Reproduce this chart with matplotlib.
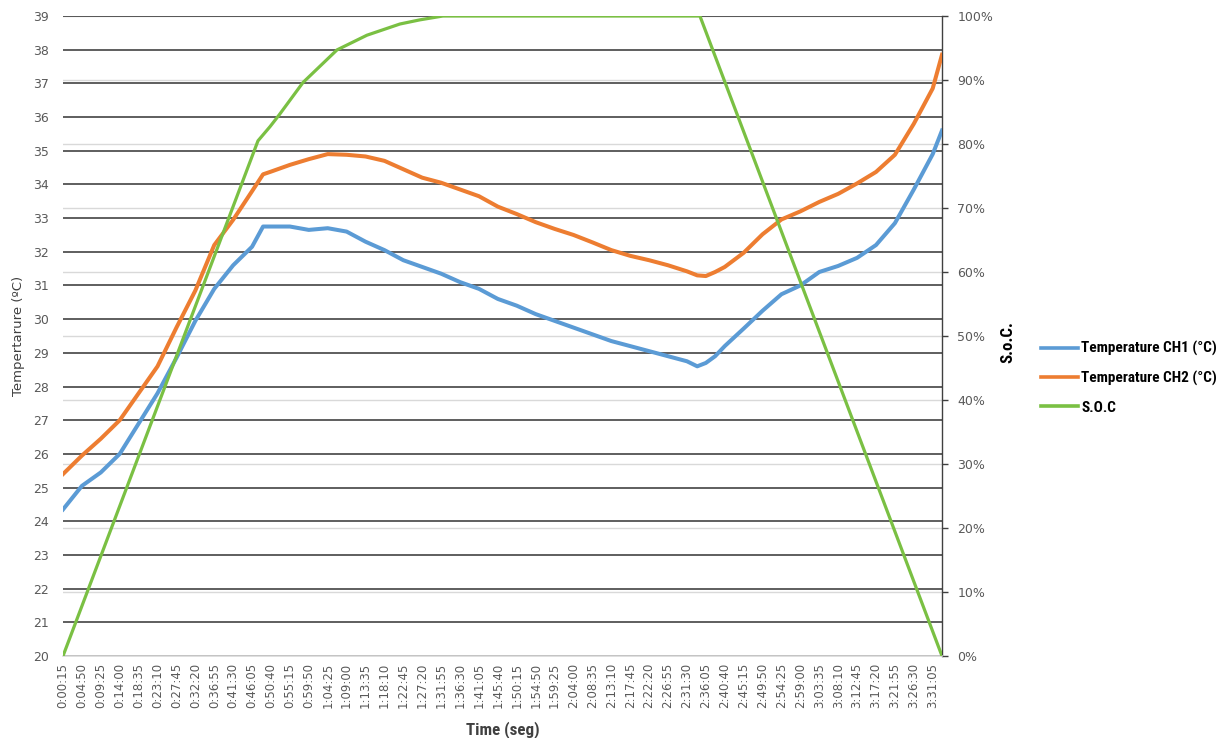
import matplotlib
matplotlib.use("Agg")
import matplotlib.pyplot as plt
from matplotlib.lines import Line2D
from matplotlib import font_manager as fm

# ---------------- data ----------------
tick_labels = [
    "0:00:15", "0:04:50", "0:09:25", "0:14:00", "0:18:35", "0:23:10", "0:27:45",
    "0:32:20", "0:36:55", "0:41:30", "0:46:05", "0:50:40", "0:55:15", "0:59:50",
    "1:04:25", "1:09:00", "1:13:35", "1:18:10", "1:22:45", "1:27:20", "1:31:55",
    "1:36:30", "1:41:05", "1:45:40", "1:50:15", "1:54:50", "1:59:25", "2:04:00",
    "2:08:35", "2:13:10", "2:17:45", "2:22:20", "2:26:55", "2:31:30", "2:36:05",
    "2:40:40", "2:45:15", "2:49:50", "2:54:25", "2:59:00", "3:03:35", "3:08:10",
    "3:12:45", "3:17:20", "3:21:55", "3:26:30", "3:31:05",
]

sample_times = [
    "0:00:15", "0:04:50", "0:09:25", "0:14:00", "0:18:35", "0:23:10", "0:27:45",
    "0:32:20", "0:36:55", "0:41:30", "0:46:05", "0:48:45", "0:50:40", "0:55:15",
    "0:59:50", "1:04:25", "1:09:00", "1:13:35", "1:18:10", "1:22:45", "1:27:20",
    "1:31:55", "1:36:30", "1:41:05", "1:45:40", "1:50:15", "1:54:50", "1:59:25",
    "2:04:00", "2:08:35", "2:13:10", "2:17:45", "2:22:20", "2:26:55", "2:31:30",
    "2:34:00", "2:36:05", "2:38:20", "2:40:40", "2:45:15", "2:49:50", "2:54:25",
    "2:59:00", "3:03:35", "3:08:10", "3:12:45", "3:17:20", "3:21:55", "3:26:30",
    "3:31:05", "3:33:20",
]

temp_ch1 = [
    24.35, 25.05, 25.45, 26.00, 26.90, 27.80, 28.85,
    29.95, 30.90, 31.60, 32.15, 32.75, 32.75, 32.75,
    32.65, 32.70, 32.60, 32.30, 32.05, 31.75, 31.55,
    31.35, 31.10, 30.90, 30.60, 30.40, 30.15, 29.95,
    29.75, 29.55, 29.35, 29.20, 29.05, 28.90, 28.75,
    28.60, 28.70, 28.90, 29.20, 29.72, 30.25, 30.74,
    31.00, 31.40, 31.58, 31.82, 32.20, 32.85, 33.85,
    34.90, 35.60,
]

temp_ch2 = [
    25.40, 25.95, 26.45, 27.00, 27.80, 28.60, 29.75,
    30.85, 32.20, 32.95, 33.80, 34.30, 34.38, 34.58,
    34.75, 34.90, 34.88, 34.83, 34.70, 34.45, 34.20,
    34.05, 33.85, 33.65, 33.34, 33.12, 32.88, 32.68,
    32.50, 32.28, 32.05, 31.88, 31.75, 31.60, 31.42,
    31.30, 31.28, 31.40, 31.55, 31.97, 32.52, 32.96,
    33.20, 33.48, 33.72, 34.03, 34.37, 34.88, 35.80,
    36.85, 37.85,
]

soc_times = ["0:00:15", "0:47:31", "0:50:25", "0:52:36", "0:58:25", "1:06:40",
             "1:13:56", "1:21:56", "1:26:47", "1:32:21", "2:34:39", "3:33:20"]
soc_pct = [0.0, 80.5, 82.7, 84.5, 89.6, 94.7, 97.0, 98.75, 99.4, 100.0, 100.0, 0.0]

temp_ticks = list(range(20, 40))
soc_ticks = list(range(0, 101, 10))

legend_labels = ["Temperature CH1 (°C)", "Temperature CH2 (°C)", "S.O.C"]


def to_sec(s):
    h, m, sec = s.split(":")
    return int(h) * 3600 + int(m) * 60 + int(sec)


tick_x = [to_sec(s) for s in tick_labels]
tx = [to_sec(s) for s in sample_times]
sx = [to_sec(s) for s in soc_times]


# ---------------- fonts ----------------
def _wt(f):
    try:
        return int(f.weight)
    except (TypeError, ValueError):
        return {"bold": 700, "heavy": 800, "black": 900, "semibold": 600,
                "demibold": 600, "medium": 500}.get(str(f.weight).lower(), 400)


def pick_narrow_bold():
    pref = ["liberation sans narrow", "roboto condensed", "noto sans", "open sans",
            "dejavu sans", "inter", "lato"]
    best, best_score = None, None
    for f in fm.fontManager.ttflist:
        nm = f.name.lower()
        fn = f.fname.lower()
        narrow = ("narrow" in nm or "condensed" in nm or "narrow" in fn
                  or "condensed" in fn or str(f.stretch).lower() in
                  ("condensed", "semi-condensed", "extra-condensed", "ultra-condensed"))
        if not narrow or f.style != "normal" or "mono" in nm or "mono" in fn:
            continue
        if "extracondensed" in fn or "semicondensed" in fn:
            continue
        w = _wt(f)
        if w < 600 or w > 750:
            continue
        rank = next((i for i, p in enumerate(pref) if p in nm), len(pref))
        score = (rank, abs(w - 700))
        if best_score is None or score < best_score:
            best, best_score = f, score
    if best is not None:
        return fm.FontProperties(fname=best.fname)
    return fm.FontProperties(family=["Roboto", "DejaVu Sans"], weight="bold")


nb_prop = pick_narrow_bold()

plt.rcParams["font.family"] = ["DejaVu Sans"]

fig = plt.figure(figsize=(12.32, 7.38), dpi=100)
renderer = fig.canvas.get_renderer()


def fit_prop(text, target_px, base=10.0):
    p = nb_prop.copy()
    p.set_size(base)
    t = fig.text(0, 0, text, fontproperties=p)
    w = t.get_window_extent(renderer).width
    t.remove()
    p.set_size(base * target_px / w)
    return p


rect = [63 / 1232, 1 - 656 / 738, (942 - 63) / 1232, (656 - 16) / 738]

c_blue = "#5B9BD5"
c_orange = "#ED7D31"
c_green = "#7AC043"
grid_dark = "#333333"
grid_light = "#d9d9d9"
tick_col = "#595959"

ax = fig.add_axes(rect)
ax_bg = ax.twinx()      # secondary (SOC) axis: right ticks + light grid, drawn first
ax_soc = ax.twinx()     # SOC line, drawn on top

ax_bg.set_zorder(0)
ax.set_zorder(1)
ax_soc.set_zorder(2)
ax.patch.set_visible(False)
ax_soc.patch.set_visible(False)

xmin, xmax = tx[0], tx[-1]
for a in (ax, ax_bg, ax_soc):
    a.set_xlim(xmin, xmax)

# background secondary axis
ax_bg.set_ylim(0, 100)
ax_bg.set_yticks(soc_ticks)
ax_bg.set_yticklabels([f"{v}%" for v in soc_ticks])
ax_bg.grid(axis="y", color=grid_light, linewidth=1.0)
ax_bg.tick_params(axis="y", direction="out", length=4, width=1.0,
                  color="#404040", labelcolor=tick_col, labelsize=9, pad=7)
for side in ("left", "top", "bottom"):
    ax_bg.spines[side].set_visible(False)
ax_bg.spines["right"].set_color("#404040")
ax_bg.spines["right"].set_linewidth(1.0)
ax_bg.set_ylabel("S.o.C.", fontproperties=fit_prop("S.o.C.", 42), color="black")
ax_bg.yaxis.set_label_coords(1.066, 0.49)

# primary axis
ax.set_ylim(20, 39)
ax.set_yticks(temp_ticks)
ax.tick_params(axis="y", length=0, labelcolor=tick_col, labelsize=9, pad=10)
ax.grid(axis="y", color=grid_dark, linewidth=1.1)
ax.set_axisbelow(True)
ax.set_xticks(tick_x)
ax.set_xticklabels(tick_labels, rotation=90)
ax.tick_params(axis="x", length=0, labelcolor=tick_col, labelsize=8.5, pad=5)
for side in ("left", "top", "right"):
    ax.spines[side].set_visible(False)
ax.spines["bottom"].set_color(grid_light)
ax.spines["bottom"].set_linewidth(1.2)
ax.spines["bottom"].set_zorder(3)

ax.plot(tx, temp_ch1, color=c_blue, linewidth=2.9, solid_joinstyle="round", zorder=4)
ax.plot(tx, temp_ch2, color=c_orange, linewidth=2.9, solid_joinstyle="round", zorder=4)

ax.set_ylabel("Tempertarure (ºC)", fontsize=9.5, color="#404040")
ax.yaxis.set_label_coords(-0.0432, 0.5)
ax.set_xlabel("Time (seg)", fontproperties=fit_prop("Time (seg)", 74), color="#404040")
ax.xaxis.set_label_coords(0.5, -0.101)

# SOC line on top
ax_soc.set_ylim(0, 100)
ax_soc.axis("off")
ax_soc.plot(sx, soc_pct, color=c_green, linewidth=2.3, solid_joinstyle="round")

# legend
leg_prop = fit_prop(legend_labels[1], 136)
fs_px = leg_prop.get_size_in_points() * 100 / 72
handles = [Line2D([], [], color=c_blue, linewidth=2.6),
           Line2D([], [], color=c_orange, linewidth=2.6),
           Line2D([], [], color=c_green, linewidth=2.6)]
leg = fig.legend(handles, legend_labels, loc="center left",
                 bbox_to_anchor=(1041 / 1232, 1 - 378 / 738),
                 frameon=False, borderpad=0, borderaxespad=0,
                 handlelength=37 / fs_px, handletextpad=3 / fs_px,
                 labelspacing=max(0.2, (33 - 1.2 * fs_px) / fs_px),
                 prop=leg_prop)
for t in leg.get_texts():
    t.set_color("black")

fig.savefig("out.png", dpi=100)
